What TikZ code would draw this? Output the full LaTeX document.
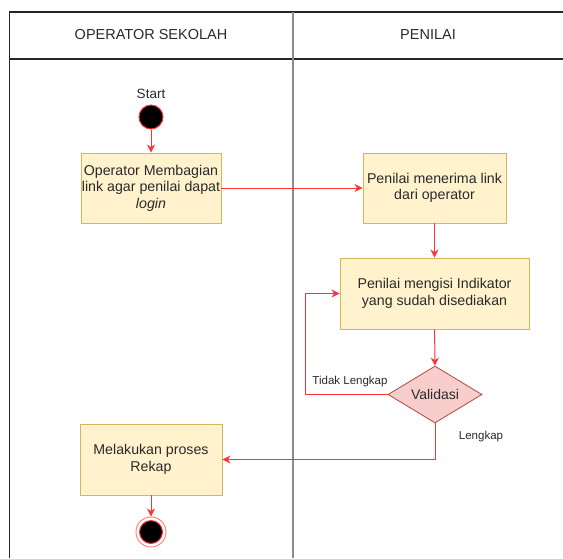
\documentclass[tikz,border=0pt]{standalone}
\usepackage{fontspec}
\setmainfont{Liberation Sans}
\usetikzlibrary{arrows.meta,shapes.geometric}
\definecolor{txt}{HTML}{2A2A2A}
\definecolor{boxfill}{HTML}{FFF2CC}
\definecolor{boxline}{HTML}{D6B656}
\definecolor{dfill}{HTML}{F8CECC}
\definecolor{dline}{HTML}{B85450}
\definecolor{flow}{HTML}{FF3333}
\tikzset{
  actbox/.style={draw=boxline, fill=boxfill, line width=0.9pt, text=txt, font=\fontsize{14.2}{16.5}\selectfont, align=center, inner sep=0pt},
  flowline/.style={draw=flow, line width=1pt, -{Stealth[length=8pt,width=8pt,inset=2.5pt]}},
  frame/.style={draw=black!85, line width=1.2pt},
  lbl/.style={text=txt, inner sep=0pt},
}
\begin{document}
\begin{tikzpicture}[x=1pt,y=-1pt]
\useasboundingbox (0,0) rectangle (563,558);
% swimlane frame
\draw[frame] (9.5,558) -- (9.5,12) -- (563,12);
\draw[frame] (9.5,59) -- (563,59);
\draw[draw=black!45, line width=2.5pt] (293,12) -- (293,558);
\node[lbl, font=\fontsize{14.5}{16}\selectfont] (h1) at (151,35) {OPERATOR SEKOLAH};
\node[lbl, font=\fontsize{14.5}{16}\selectfont] (h2) at (428,35) {PENILAI};
% start
\node[lbl, font=\fontsize{13.5}{15}\selectfont] (startlbl) at (151,94) {Start};
\node[circle, fill=black, draw=flow, line width=1pt, minimum size=24pt, inner sep=0pt] (start) at (151,117) {};
% activities
\node[actbox, minimum width=140pt, minimum height=70pt] (b1) at (151,188)
  {Operator Membagian\\link agar penilai dapat\\\textit{login}};
\node[actbox, minimum width=143pt, minimum height=70pt] (b2) at (434.5,188)
  {Penilai menerima link\\dari operator};
\node[actbox, minimum width=189pt, minimum height=71pt] (b3) at (434.5,293.5)
  {Penilai mengisi Indikator\\yang sudah disediakan};
\node[diamond, draw=dline, fill=dfill, line width=0.9pt, text=txt, font=\fontsize{14}{16}\selectfont, minimum width=94pt, minimum height=57pt, inner sep=0pt, aspect=1.65] (val) at (435,394.5) {Validasi};
\node[actbox, minimum width=142pt, minimum height=71pt] (b4) at (151,459.5)
  {Melakukan proses\\Rekap};
% end
\node[circle, draw=flow!60, line width=1pt, minimum size=30pt, inner sep=0pt] (endo) at (151,532) {};
\node[circle, fill=black, draw=flow, line width=1pt, minimum size=23pt, inner sep=0pt] (endi) at (151,532) {};
% labels
\node[lbl, font=\fontsize{11.5}{13}\selectfont] (tl) at (350,382) {Tidak Lengkap};
\node[lbl, font=\fontsize{11.5}{13}\selectfont] (ll) at (481,436.5) {Lengkap};
% connectors
\draw[flowline] (start) -- (b1);
\draw[flowline] (b1) -- (b2);
\draw[flowline] (b2) -- (b3);
\draw[flowline] (b3) -- (val);
\draw[flowline] (val.west) -- (305,394.5) |- (b3.west);
\draw[flowline] (val.south) |- (b4.east);
\draw[flowline] (b4) -- (endo);
\end{tikzpicture}
\end{document}
